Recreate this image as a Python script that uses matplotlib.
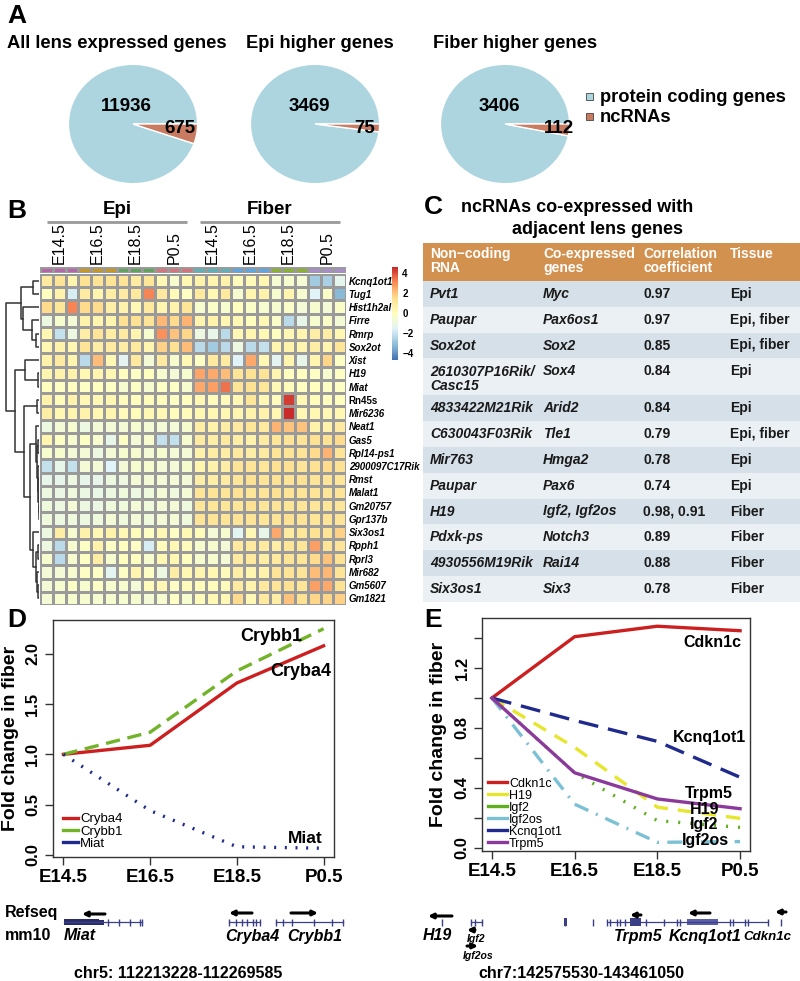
import numpy as np
import matplotlib
matplotlib.use("Agg")
import matplotlib.pyplot as plt
from matplotlib.colors import LinearSegmentedColormap, ListedColormap
from matplotlib.patches import Rectangle
from matplotlib.lines import Line2D

plt.rcParams['font.family'] = ['Liberation Sans', 'DejaVu Sans']

# ---------------- data ----------------
# A: pies
pie_titles = ['All lens expressed genes', 'Epi higher genes', 'Fiber higher genes']
pie_protein = [11936, 3469, 3406]
pie_ncrna = [675, 75, 112]
pie_legend = ['protein coding genes', 'ncRNAs']

# B: heatmap (row z-scores)
hm_genes = ['Kcnq1ot1', 'Tug1', 'Hist1h2al', 'Firre', 'Rmrp', 'Sox2ot', 'Xist', 'H19', 'Miat',
            'Rn45s', 'Mir6236', 'Neat1', 'Gas5', 'Rpl14-ps1', '2900097C17Rik', 'Rmst', 'Malat1',
            'Gm20757', 'Gpr137b', 'Six3os1', 'Rpph1', 'Rprl3', 'Mir682', 'Gm5607', 'Gm1821']
hm_stages = ['E14.5', 'E16.5', 'E18.5', 'P0.5']
hm_tissues = ['Epi', 'Fiber']
hm_values = np.array([
    [0.9, 1.3, 0.5, 1.4, 1.3, 1.3, 1.3, 0.9, 1.2, 0.3, -0.5, 0.4, 0.6, 0.5, 0.6, 0.1, 0.2, 0.4, -0.6, -0.5, -0.6, -2.8, -2.6, -1.3],
    [0.0, 0.6, -1.8, 0.9, 0.5, 0.8, 0.9, 1.0, 3.2, 1.0, 0.2, -0.2, 1.0, 0.4, 1.0, -0.5, 0.5, 0.6, -0.5, 0.5, -0.5, -1.6, -0.3, -3.3],
    [1.6, 1.2, 3.2, 1.6, 1.6, 0.7, 0.6, 0.3, 1.0, 0.5, 0.6, 1.2, -0.5, -0.3, -0.5, 0.0, -0.3, -0.5, -0.5, -0.3, -0.7, -0.5, -0.7, -0.3],
    [-0.9, -0.5, -0.7, 0.6, 0.5, 0.5, 1.4, 1.4, 1.3, 2.2, 1.6, 2.3, 0.5, 0.6, 0.4, 0.3, 0.0, 0.3, -0.3, -2.3, -1.2, -0.5, -0.3, -0.7],
    [0.4, -2.1, -0.9, 0.8, 1.3, 0.8, 0.9, 0.5, -0.5, 3.0, 2.0, 1.7, -0.9, -1.2, -2.3, 0.3, 0.5, 0.3, 0.0, 0.3, 0.5, 0.8, 0.8, 0.4],
    [0.4, 0.6, 0.4, 1.3, 0.8, 0.9, 0.8, 1.0, 0.5, 1.8, 1.4, 2.1, -2.3, -2.8, -2.3, -0.9, -2.3, -2.1, 0.5, 0.6, 0.5, 0.8, 0.5, 1.2],
    [0.6, 0.9, 0.5, -2.3, 2.1, 0.3, -1.4, 1.0, -0.7, 0.9, -0.5, 0.3, -0.2, 1.0, 0.9, -1.6, 2.5, 0.4, -1.4, 0.5, -1.2, 0.5, 1.7, -0.2],
    [0.5, 0.6, 0.6, 0.4, 0.5, 0.3, 0.0, -0.2, 0.0, -0.5, -0.7, -0.5, 2.6, 2.5, 2.1, 1.3, 1.4, 1.3, 0.5, 0.0, 0.0, -0.2, -0.5, -0.2],
    [0.0, -0.2, 0.0, -0.2, 0.0, -0.2, -0.5, -0.2, -0.5, -0.2, -0.2, -0.5, 2.5, 2.7, 3.4, 1.3, 1.4, 1.2, 0.3, 0.1, 0.0, 0.0, -0.2, -0.2],
    [0.6, 0.1, 0.6, 0.3, 0.3, 0.4, 0.1, 0.0, 0.1, 0.1, -0.2, 0.0, 0.4, 0.1, 0.1, 0.4, 1.2, 0.3, 0.1, 4.3, 0.3, 0.1, 0.0, 0.0],
    [0.8, 0.4, 0.5, 0.6, 0.4, 0.5, 0.1, 0.1, 0.3, 0.3, 0.1, 0.1, 0.4, 0.4, 0.4, 0.5, 0.6, 0.6, 0.4, 4.6, 0.4, 0.4, 0.3, 0.4],
    [-0.9, -0.7, -0.5, -0.9, -0.7, -0.7, -0.7, -0.5, -0.7, -0.7, -0.7, -0.5, 0.8, 0.6, 0.8, 0.9, 1.2, 1.0, 2.3, 2.0, 2.0, 0.6, 0.6, 0.9],
    [0.5, -0.2, -0.5, -0.2, -0.5, -1.2, -0.2, -0.7, -0.5, -2.1, -2.1, -0.5, 0.9, 0.8, 1.0, 0.8, 0.6, 0.9, 1.2, 1.3, 1.3, 1.4, 1.4, 1.6],
    [-0.5, -0.5, -0.7, -0.7, -0.9, -0.7, -0.5, -0.5, -0.7, -0.5, -0.7, -0.7, 0.6, 0.8, 0.8, 1.0, 0.8, 0.9, 1.3, 1.3, 1.3, 1.6, 2.3, 1.3],
    [-2.1, -1.2, -2.1, -0.7, -0.7, -1.6, -0.7, -0.5, -0.5, -0.7, -0.7, -0.5, 0.5, 0.6, 0.8, 1.3, 1.3, 1.2, 1.4, 1.4, 1.3, 1.4, 1.6, 1.4],
    [-1.2, -1.2, -0.9, -1.2, -1.2, -0.9, -0.9, -0.7, -0.7, -0.7, -0.7, -0.7, 0.8, 0.8, 0.9, 1.2, 1.4, 1.3, 1.4, 1.3, 1.4, 1.3, 1.3, 1.2],
    [-0.9, -1.0, -0.8, -1.0, -1.1, -0.9, -0.8, -0.9, -0.8, -0.7, -0.8, -0.7, 1.3, 1.3, 1.2, 1.4, 1.2, 1.3, 1.4, 1.3, 1.3, 1.3, 1.2, 1.3],
    [-0.8, -0.9, -0.7, -0.9, -1.0, -0.8, -0.8, -0.7, -0.8, -0.7, -0.7, -0.8, 1.2, 1.2, 1.2, 1.2, 1.4, 1.2, 1.3, 1.2, 1.3, 1.2, 1.2, 1.2],
    [-0.8, -0.9, -0.8, -0.9, -0.8, -0.7, -0.8, -0.7, -0.8, -0.7, -0.7, -0.8, 1.3, 1.3, 1.3, 1.3, 1.3, 1.2, 1.3, 1.4, 1.3, 1.2, 1.3, 1.3],
    [-0.9, 0.8, -0.5, 0.6, 0.3, 0.6, 0.3, 0.1, -0.2, 0.3, -0.2, 0.3, 0.1, -0.7, -0.5, -1.4, 0.3, -1.2, 2.5, 0.9, 1.2, 1.4, 1.3, 1.8],
    [-0.9, -2.3, -0.5, -0.2, 0.6, -0.2, 0.0, -0.2, -1.8, 0.1, 0.3, 0.1, -0.5, -0.5, -0.7, 1.0, 1.0, 0.9, 0.8, 1.2, 1.2, 2.7, 1.3, 1.3],
    [-0.5, -2.3, -0.5, -0.2, 0.8, -0.5, 0.0, 0.0, -0.5, 0.3, 0.4, 0.0, -0.5, -0.5, -0.7, 0.9, 1.0, 0.8, 1.0, 1.3, 1.2, 1.6, 2.0, 1.4],
    [-0.7, -0.7, -0.5, -0.2, -0.2, -1.4, -0.2, 0.5, -0.2, -0.9, 0.8, 0.4, 0.5, 0.4, 0.1, 0.8, 0.5, 0.6, 1.3, 1.3, 1.3, 2.1, 2.2, 1.3],
    [-0.7, -0.5, -0.2, -0.5, -0.2, -0.5, -0.5, -0.7, 0.1, 0.3, -0.2, 0.1, 0.1, 0.1, 0.1, 0.9, 0.6, 1.0, 1.3, 1.4, 1.3, 2.7, 2.5, 1.4],
    [-0.7, -0.5, -0.5, -0.5, -0.5, -0.5, -0.5, -0.5, -0.7, -0.5, -0.2, -0.5, 0.1, 0.3, 0.3, 1.6, 0.3, 1.0, 0.8, 2.0, 1.4, 1.7, 1.7, 1.8],
])
# row dendrogram: (child a, child b, height); new node ids start at 25
dendro_merges = [
    (0, 1, 1.9), (4, 5, 0.9), (3, 26, 2.2), (2, 27, 4.7), (25, 28, 5.6),
    (7, 8, 0.3), (6, 30, 4.1), (9, 10, 0.6),
    (17, 18, 0.1), (16, 33, 0.15), (15, 34, 0.2), (14, 35, 0.35), (12, 13, 0.45),
    (37, 36, 0.6), (11, 38, 0.9),
    (23, 24, 0.3), (22, 40, 0.6), (20, 21, 0.4), (42, 41, 1.0), (19, 43, 1.9),
    (39, 44, 2.8), (32, 45, 4.4), (31, 46, 7.2), (29, 47, 10.0),
]
group_colors = ['#b466a8', '#c9961f', '#5fa35c', '#d8727b', '#5db2b9', '#5aa6e6', '#8ab22c', '#a98ccb']

# C: table
tbl_header = ['Non\u2212coding\nRNA', 'Co-expressed\ngenes', 'Correlation\ncoefficient', 'Tissue']
tbl_ncrna = ['Pvt1', 'Paupar', 'Sox2ot', '2610307P16Rik/\nCasc15', '4833422M21Rik', 'C630043F03Rik',
             'Mir763', 'Paupar', 'H19', 'Pdxk-ps', '4930556M19Rik', 'Six3os1']
tbl_genes = ['Myc', 'Pax6os1', 'Sox2', 'Sox4', 'Arid2', 'Tle1', 'Hmga2', 'Pax6',
             'Igf2, Igf2os', 'Notch3', 'Rai14', 'Six3']
tbl_corr = ['0.97', '0.97', '0.85', '0.84', '0.84', '0.79', '0.78', '0.74', '0.98, 0.91', '0.89', '0.88', '0.78']
tbl_tissue = ['Epi', 'Epi, fiber', 'Epi, fiber', 'Epi', 'Epi', 'Epi, fiber', 'Epi', 'Epi',
              'Fiber', 'Fiber', 'Fiber', 'Fiber']

# D / E: fold change lines
stages = ['E14.5', 'E16.5', 'E18.5', 'P0.5']
d_cryba4 = [1.0, 1.09, 1.71, 2.08]
d_crybb1 = [1.0, 1.22, 1.83, 2.25]
d_miat = [1.0, 0.44, 0.08, 0.065]
e_cdkn1c = [1.0, 1.41, 1.48, 1.45]
e_h19 = [1.0, 0.67, 0.27, 0.195]
e_igf2 = [1.0, 0.50, 0.18, 0.135]
e_igf2os = [1.0, 0.29, 0.035, 0.04]
e_kcnq1ot1 = [1.0, 0.85, 0.71, 0.47]
e_trpm5 = [1.0, 0.50, 0.325, 0.26]

# ---------------- layout helpers (pixel boxes) ----------------
W, H = 800, 981
fig = plt.figure(figsize=(W / 100, H / 100), dpi=100)


def box(l, t, r, b):
    return [l / W, 1 - b / H, (r - l) / W, (b - t) / H]


cv = fig.add_axes([0, 0, 1, 1])
cv.set_xlim(0, W)
cv.set_ylim(H, 0)
cv.axis('off')

for lab, (x, y) in zip('ABCDE', [(17, 16), (17, 211), (433, 207), (17, 620), (433, 620)]):
    cv.text(x, y, lab, fontsize=19, fontweight='bold', ha='center', va='center')

# ---------------- A: pies ----------------
c_prot, c_nc = '#add5e0', '#c97b62'
pie_cx = [133, 315, 505]
big_pos = [(-0.11, 0.30), (-0.09, 0.30), (-0.08, 0.30)]
small_pos = [(0.73, -0.07), (0.77, -0.07), (0.84, -0.07)]
title_x = [117, 320, 515]
for i in range(3):
    cx, cy = pie_cx[i], 124
    ax = fig.add_axes(box(cx - 64.6, cy - 59.7, cx + 64.6, cy + 59.7))
    ax.pie([pie_protein[i], pie_ncrna[i]], colors=[c_prot, c_nc], startangle=0,
           counterclock=True, wedgeprops=dict(edgecolor='white', linewidth=1))
    ax.set_aspect('auto')
    ax.set_xlim(-1, 1)
    ax.set_ylim(-1, 1)
    ax.text(*big_pos[i], str(pie_protein[i]), ha='center', va='center', fontsize=13.5, fontweight='bold')
    ax.text(*small_pos[i], str(pie_ncrna[i]), ha='center', va='center', fontsize=13.5, fontweight='bold')
    cv.text(title_x[i], 43, pie_titles[i], ha='center', va='center', fontsize=13.2, fontweight='bold')

for j, (lab, col) in enumerate(zip(pie_legend, [c_prot, c_nc])):
    cv.add_patch(Rectangle((586, 93 + 20 * j), 7, 7, facecolor=col, edgecolor='#444', lw=0.6))
    cv.text(600, 97 + 20 * j, lab, ha='left', va='center', fontsize=13.2, fontweight='bold')

# ---------------- B: heatmap ----------------
cmap = LinearSegmentedColormap.from_list(
    'rdylbu7', ['#4575B4', '#91BFDB', '#E0F3F8', '#FFFFBF', '#FEE090', '#FC8D59', '#C92A2A'], N=100)
grid_c = '#9a9a9a'
n_rows, n_cols = hm_values.shape

ax_hm = fig.add_axes(box(40, 274, 346, 605))
mesh = ax_hm.pcolormesh(np.arange(n_cols + 1), np.arange(n_rows + 1), hm_values, cmap=cmap,
                        vmin=-4.7, vmax=4.6, edgecolors=grid_c, linewidth=0.9)
ax_hm.set_xlim(0, n_cols)
ax_hm.set_ylim(n_rows, 0)
ax_hm.set_xticks([])
ax_hm.yaxis.tick_right()
ax_hm.set_yticks(np.arange(n_rows) + 0.5)
ax_hm.set_yticklabels(hm_genes, fontsize=7, fontweight='bold')
for t in ax_hm.get_yticklabels():
    if t.get_text() != 'Rn45s':
        t.set_fontstyle('italic')
ax_hm.tick_params(axis='y', length=0, pad=2)
for s in ax_hm.spines.values():
    s.set_visible(False)

# annotation bar
groups = np.repeat(np.arange(len(hm_tissues) * len(hm_stages)), 3)
ax_an = fig.add_axes(box(40, 267, 346, 273))
ax_an.pcolormesh(np.arange(n_cols + 1), [0, 1], groups[None, :], cmap=ListedColormap(group_colors),
                 vmin=-0.5, vmax=7.5, edgecolors=grid_c, linewidth=0.9)
ax_an.set_xlim(0, n_cols)
ax_an.axis('off')

col_w = 306 / n_cols
for g in range(8):
    cv.text(40 + col_w * (3 * g + 1.5), 264, hm_stages[g % 4], rotation=90, ha='center', va='bottom',
            fontsize=11.5)
for k, tis in enumerate(hm_tissues):
    x0 = 40 + col_w * 12 * k
    cv.plot([x0 + 7, x0 + 147], [222, 222], color='#999999', lw=2, solid_capstyle='butt')
    cv.text(x0 + 77, 210, tis, ha='center', va='center', fontsize=13.5, fontweight='bold')

# dendrogram
ax_dn = fig.add_axes(box(4, 274, 39, 605))
pos = {i: i + 0.5 for i in range(n_rows)}
hgt = {i: 0.0 for i in range(n_rows)}
for k, (a, b, h) in enumerate(dendro_merges):
    ax_dn.plot([hgt[a], h, h, hgt[b]], [pos[a], pos[a], pos[b], pos[b]], color='#333333', lw=1.1)
    pos[n_rows + k] = (pos[a] + pos[b]) / 2
    hgt[n_rows + k] = h
ax_dn.set_xlim(10.6, 0)
ax_dn.set_ylim(n_rows, 0)
ax_dn.axis('off')

# colour key
cax = fig.add_axes(box(392, 267, 398, 360))
cb = fig.colorbar(mesh, cax=cax, ticks=[-4, -2, 0, 2, 4])
cb.outline.set_visible(False)
cax.tick_params(length=0, labelsize=7, pad=3)
for t in cax.get_yticklabels():
    t.set_fontweight('bold')

# ---------------- C: table ----------------
cv.text(577, 208, 'ncRNAs co-expressed with', ha='center', va='center', fontsize=13, fontweight='bold')
cv.text(597, 230, 'adjacent lens genes', ha='center', va='center', fontsize=13, fontweight='bold')
tx0, tx1 = 423, 800
col_x = [430, 543, 643, 730]
cv.add_patch(Rectangle((tx0, 243), tx1 - tx0, 38, facecolor='#d3914f', edgecolor='none'))
for cx, lab in zip(col_x, tbl_header):
    cv.text(cx, 247, lab, ha='left', va='top', fontsize=10, fontweight='bold', color='white',
            linespacing=1.0)
y = 281
for r in range(len(tbl_ncrna)):
    double = '\n' in tbl_ncrna[r]
    rh = 37 if double else 25.8
    cv.add_patch(Rectangle((tx0, y), tx1 - tx0, rh, facecolor='#d6e0e9' if r % 2 == 0 else '#ebf0f4',
                           edgecolor='none'))
    yc = y + 12.5 if double else y + rh / 2
    cv.text(col_x[0], yc - 6 if double else yc, tbl_ncrna[r], ha='left', va='top' if double else 'center',
            fontsize=10, fontweight='bold', style='italic', color='#1a1a1a', linespacing=1.05)
    cv.text(col_x[1], yc, tbl_genes[r], ha='left', va='center', fontsize=10, fontweight='bold',
            style='italic', color='#1a1a1a')
    cv.text(col_x[2], yc, tbl_corr[r], ha='left', va='center', fontsize=10, fontweight='bold', color='#1a1a1a')
    cv.text(col_x[3], yc, tbl_tissue[r], ha='left', va='center', fontsize=10, fontweight='bold', color='#1a1a1a')
    y += rh

# ---------------- D / E: line plots ----------------
x = np.arange(1, 5)


def style_axes(ax, ylim, yticks, ylabels, label_x):
    ax.set_xlim(0.88, 4.12)
    ax.set_ylim(*ylim)
    ax.set_xticks(x)
    ax.set_xticklabels(stages, fontsize=13.5, fontweight='bold')
    ax.set_yticks(yticks)
    ax.set_yticklabels(ylabels, fontsize=12, fontweight='bold', rotation=90, va='center')
    ax.tick_params(length=6, width=1, pad=3, color='#333333')
    for s in ax.spines.values():
        s.set_linewidth(1)
        s.set_color('#333333')
    ax.set_ylabel('Fold change in fiber', fontsize=14, fontweight='bold', va='center')
    ax.yaxis.set_label_coords(label_x, 0.5)


c_red, c_green, c_navy = '#cc2020', '#72b32a', '#1f2a8c'
ax_d = fig.add_axes(box(53, 620, 334, 857))
ax_d.plot(x, d_cryba4, color=c_red, lw=2.4)
ax_d.plot(x, d_crybb1, color=c_green, lw=2.4, dashes=(4.3, 2.3))
ax_d.plot(x, d_miat, color=c_navy, lw=2.4, dashes=(0.6, 2.6))
style_axes(ax_d, (-0.022, 2.337), [0, 0.5, 1.0, 1.5, 2.0], ['0.0', '0.5', '1.0', '1.5', '2.0'], -0.152)
ax_d.text(3.4, 2.17, 'Crybb1', ha='center', va='center', fontsize=13, fontweight='bold')
ax_d.text(3.74, 1.82, 'Cryba4', ha='center', va='center', fontsize=13, fontweight='bold')
ax_d.text(3.79, 0.16, 'Miat', ha='center', va='center', fontsize=12.5, fontweight='bold')
ax_d.legend([Line2D([], [], color=c, lw=2.4) for c in (c_red, c_green, c_navy)],
            ['Cryba4', 'Crybb1', 'Miat'], loc='lower left', bbox_to_anchor=(0.036, 0.03),
            frameon=False, fontsize=9.5, handlelength=1.1, handletextpad=0.2, labelspacing=0,
            borderaxespad=0, borderpad=0)

e_cols = ['#cc2020', '#e6e62e', '#5fae1e', '#7cc0d4', '#1f2a8c', '#8b3a9c']
e_names = ['Cdkn1c', 'H19', 'Igf2', 'Igf2os', 'Kcnq1ot1', 'Trpm5']
ax_e = fig.add_axes(box(482, 618, 750, 851))
ax_e.plot(x, e_cdkn1c, color=e_cols[0], lw=2.4)
ax_e.plot(x, e_h19, color=e_cols[1], lw=2.4, dashes=(4.3, 3.0))
ax_e.plot(x, e_igf2, color=e_cols[2], lw=2.4, dashes=(0.6, 3.0))
ax_e.plot(x, e_igf2os, color=e_cols[3], lw=2.4, dashes=(4.5, 2.5, 0.6, 2.5))
ax_e.plot(x, e_kcnq1ot1, color=e_cols[4], lw=2.4, dashes=(6.0, 3.0))
ax_e.plot(x, e_trpm5, color=e_cols[5], lw=2.4)
style_axes(ax_e, (-0.023, 1.535), np.arange(8) * 0.2, ['0.0', '', '0.4', '', '0.8', '', '1.2', ''], -0.164)
for lab, lx, ly in zip(['Cdkn1c', 'Kcnq1ot1', 'Trpm5', 'H19', 'Igf2', 'Igf2os'],
                       [3.66, 3.63, 3.62, 3.57, 3.57, 3.58],
                       [1.374, 0.736, 0.36, 0.253, 0.152, 0.045]):
    ax_e.text(lx, ly, lab, ha='center', va='center', fontsize=11.5, fontweight='bold')
ax_e.legend([Line2D([], [], color=c, lw=2.4) for c in e_cols], e_names, loc='lower left',
            bbox_to_anchor=(0.022, 0.005), frameon=False, fontsize=9, handlelength=1.5,
            handletextpad=0.2, labelspacing=0, borderaxespad=0, borderpad=0)

# ---------------- gene tracks ----------------
trk = '#3b3f86'


def arrow(x0, x1, yy):
    cv.annotate('', xy=(x1, yy), xytext=(x0, yy),
                arrowprops=dict(arrowstyle='-|>', lw=2.2, color='black', mutation_scale=7,
                                shrinkA=0, shrinkB=0))


cv.text(5, 913, 'Refseq', ha='left', va='center', fontsize=11.5, fontweight='bold')
cv.text(5, 935, 'mm10', ha='left', va='center', fontsize=11.5, fontweight='bold')

d_introns = [(64, 142), (229, 260), (276, 343)]
d_exons = [108, 119, 130, 140, 142, 229, 236, 242, 247, 253, 256, 260, 276, 283, 292, 314, 332, 343]
for a, b in d_introns:
    cv.plot([a, b], [922, 922], color=trk, lw=0.9)
cv.add_patch(Rectangle((64, 919), 35, 6, facecolor='#2a2d6a', edgecolor='none'))
cv.add_patch(Rectangle((99, 919.5), 5, 5, facecolor='#2a2d6a', edgecolor='none'))
cv.vlines(d_exons, 918.5, 925.5, color=trk, lw=1)
arrow(105, 82, 914)
arrow(252, 229, 913)
arrow(291, 318, 913)
cv.text(64, 936, 'Miat', ha='left', va='center', fontsize=11.5, fontweight='bold', style='italic')
cv.text(252, 936, 'Cryba4', ha='center', va='center', fontsize=11.5, fontweight='bold', style='italic')
cv.text(315, 936, 'Crybb1', ha='center', va='center', fontsize=11.5, fontweight='bold', style='italic')
cv.text(178, 973, 'chr5: 112213228-112269585', ha='center', va='center', fontsize=11.5, fontweight='bold')

e_introns = [(471, 482), (607, 768)]
e_exons = [442, 471, 475, 482, 565, 593, 607, 610, 617, 620, 625, 646, 664, 677, 680, 730, 733, 745, 748, 768, 781]
for a, b in e_introns:
    cv.plot([a, b], [922, 922], color=trk, lw=0.9)
cv.vlines(e_exons, 918.5, 925.5, color=trk, lw=1)
cv.add_patch(Rectangle((564, 918), 2.5, 8, facecolor=trk, edgecolor='none'))
cv.add_patch(Rectangle((630, 918), 11, 8, facecolor=trk, edgecolor='none'))
cv.add_patch(Rectangle((687, 919), 31, 6, facecolor='#5a5da8', edgecolor='none'))
arrow(452, 428, 916)
arrow(475, 467, 930)
arrow(467, 478, 946)
arrow(641, 630, 915)
arrow(710, 688, 913)
arrow(786, 775, 912)
cv.text(437, 936, 'H19', ha='center', va='center', fontsize=11.5, fontweight='bold', style='italic')
cv.text(476, 939, 'Igf2', ha='center', va='center', fontsize=7.5, fontweight='bold', style='italic')
cv.text(478, 956, 'Igf2os', ha='center', va='center', fontsize=7.5, fontweight='bold', style='italic')
cv.text(638, 936, 'Trpm5', ha='center', va='center', fontsize=11.5, fontweight='bold', style='italic')
cv.text(705, 936, 'Kcnq1ot1', ha='center', va='center', fontsize=11.5, fontweight='bold', style='italic')
cv.text(767, 937, 'Cdkn1c', ha='center', va='center', fontsize=9.5, fontweight='bold', style='italic')
cv.text(581, 973, 'chr7:142575530-143461050', ha='center', va='center', fontsize=11.5, fontweight='bold')

fig.savefig('out.png', dpi=100)
